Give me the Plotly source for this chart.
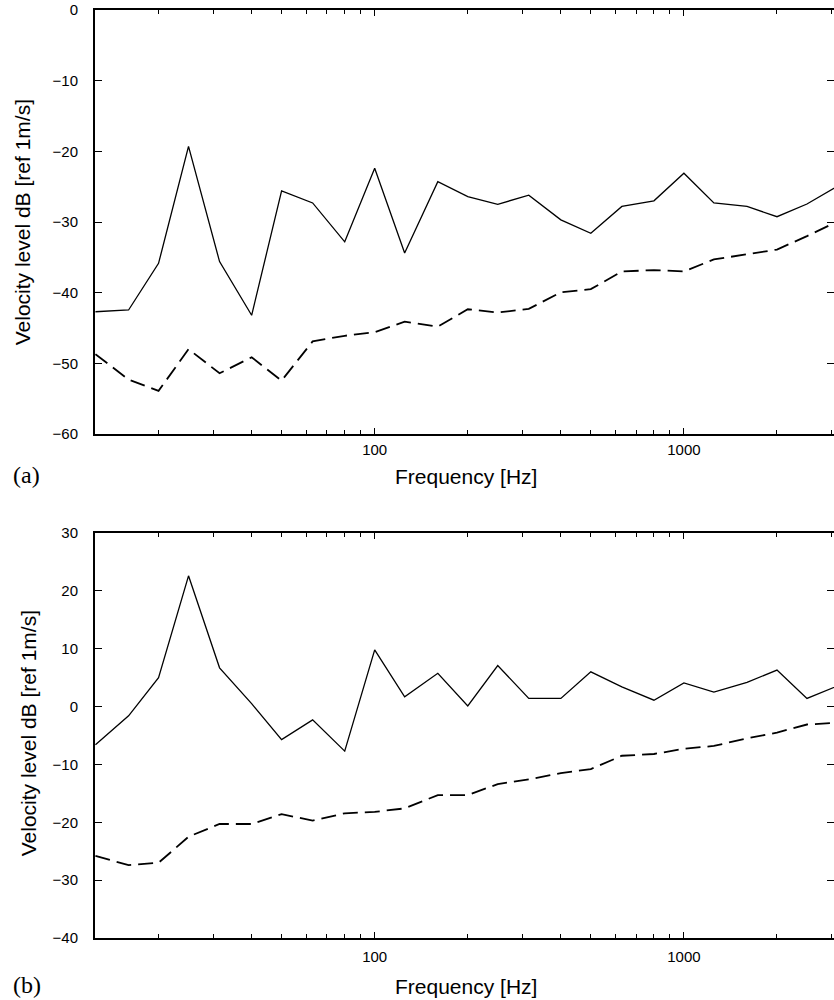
import numpy as np
import plotly.graph_objects as go

# One-third octave band centre frequencies [Hz]
freq = [12.5, 16, 20, 25, 31.5, 40, 50, 63, 80, 100, 125, 160, 200, 250,
        315, 400, 500, 630, 800, 1000, 1250, 1600, 2000, 2500, 3150]

# (a) velocity levels, dB re 1 m/s
a_solid = [-42.7, -42.45, -35.85, -19.3, -35.6, -43.2, -25.6, -27.3, -32.8,
           -22.4, -34.4, -24.3, -26.4, -27.5, -26.2, -29.7, -31.6, -27.8,
           -27.0, -23.1, -27.3, -27.8, -29.25, -27.45, -24.9]
a_dashed = [-48.7, -52.3, -53.9, -48.0, -51.4, -49.15, -52.45, -46.9, -46.1,
            -45.6, -44.1, -44.8, -42.35, -42.8, -42.3, -39.95, -39.5, -37.0,
            -36.8, -37.0, -35.3, -34.6, -33.9, -32.0, -29.9]

# (b) velocity levels, dB re 1 m/s
b_solid = [-6.6, -1.6, 5.0, 22.6, 6.7, 0.5, -5.7, -2.3, -7.7, 9.8, 1.7, 5.75,
           0.1, 7.1, 1.4, 1.4, 6.0, 3.4, 1.1, 4.1, 2.5, 4.2, 6.3, 1.4, 3.6]
b_dashed = [-25.8, -27.4, -27.0, -22.5, -20.3, -20.3, -18.6, -19.7, -18.45,
            -18.2, -17.6, -15.3, -15.3, -13.4, -12.6, -11.5, -10.8, -8.5,
            -8.2, -7.3, -6.8, -5.5, -4.5, -3.1, -2.8]

major_ticks = [100, 1000]
major_labels = ["100", "1000"]
minor_ticks = [20, 30, 40, 50, 60, 70, 80, 90,
               200, 300, 400, 500, 600, 700, 800, 900,
               2000, 3000]

W, H = 834, 1000
FONT = "Liberation Sans, Arial, sans-serif"
SERIF = "Liberation Serif, Times New Roman, serif"

fig = go.Figure()

for ax, ys in (("", (a_solid, a_dashed)), ("2", (b_solid, b_dashed))):
    fig.add_trace(go.Scatter(x=freq, y=ys[0], mode="lines", xaxis="x" + ax, yaxis="y" + ax,
                             line=dict(color="black", width=1.3), showlegend=False))
    fig.add_trace(go.Scatter(x=freq, y=ys[1], mode="lines", xaxis="x" + ax, yaxis="y" + ax,
                             line=dict(color="black", width=1.8, dash="15px,7px"),
                             showlegend=False))

xr = [1.0955, 3.4854]
xdom = [95 / W, 1.0]


def xaxis_cfg(anchor, standoff):
    return dict(
        type="log", range=xr, domain=xdom, anchor=anchor,
        showline=True, linecolor="black", linewidth=2, mirror="ticks",
        ticks="inside", ticklen=6, tickwidth=1.2, tickcolor="black",
        tickmode="array", tickvals=major_ticks, ticktext=major_labels,
        tickfont=dict(family=FONT, size=15, color="black"),
        ticklabelstandoff=standoff,
        minor=dict(tickmode="array", tickvals=minor_ticks, ticks="inside",
                   ticklen=4, tickwidth=1.2, tickcolor="black", showgrid=False),
        showgrid=False, zeroline=False, automargin=False,
    )


def yaxis_cfg(anchor, dom, rng):
    return dict(
        range=rng, domain=dom, anchor=anchor, dtick=10,
        showline=True, linecolor="black", linewidth=2, mirror="ticks",
        ticks="inside", ticklen=7, tickwidth=1.2, tickcolor="black",
        tickfont=dict(family=FONT, size=15, color="black"),
        ticklabelstandoff=12,
        showgrid=False, zeroline=False, automargin=False,
    )


fig.update_layout(
    width=W, height=H,
    margin=dict(l=0, r=0, t=0, b=0),
    paper_bgcolor="white", plot_bgcolor="white",
    xaxis=xaxis_cfg("y", 1),
    yaxis=yaxis_cfg("x", [1 - 434 / H, 1 - 10 / H], [-60, 0]),
    xaxis2=xaxis_cfg("y2", 4),
    yaxis2=yaxis_cfg("x2", [1 - 938 / H, 1 - 533 / H], [-40, 30]),
)

ytitle = "Velocity level dB [ref 1m/s]"
notes = [
    dict(text=ytitle, x=23.3 / W, y=1 - 222 / H, textangle=-90,
         font=dict(family=FONT, size=21)),
    dict(text=ytitle, x=28.3 / W, y=1 - 733 / H, textangle=-90,
         font=dict(family=FONT, size=21)),
    dict(text="Frequency [Hz]", x=465.5 / W, y=1 - 476.5 / H,
         font=dict(family=FONT, size=21)),
    dict(text="Frequency [Hz]", x=465.5 / W, y=1 - 986 / H,
         font=dict(family=FONT, size=21)),
    dict(text="(a)", x=26.5 / W, y=1 - 475 / H, font=dict(family=SERIF, size=24)),
    dict(text="(b)", x=27 / W, y=1 - 985 / H, font=dict(family=SERIF, size=24)),
]
for n in notes:
    fig.add_annotation(xref="paper", yref="paper", showarrow=False,
                       xanchor="center", yanchor="middle",
                       font_color="black", **n)

fig.write_html("out.html")
